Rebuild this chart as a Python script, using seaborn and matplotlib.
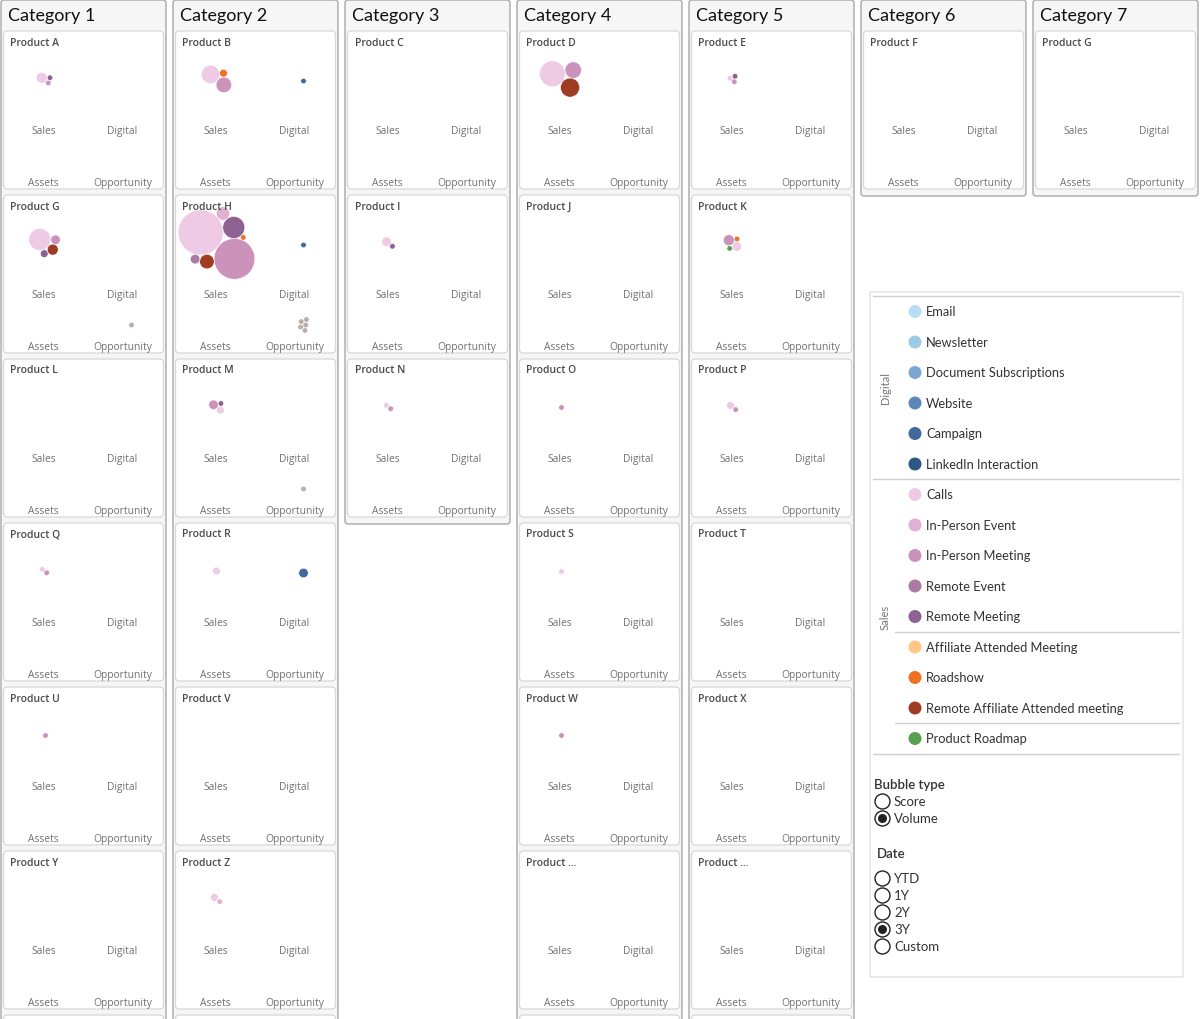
import numpy as np
import pandas as pd
import matplotlib
matplotlib.use('Agg')
import matplotlib.pyplot as plt
from matplotlib.patches import FancyBboxPatch
import seaborn as sns

# --- data ---
categories = ['Category 1', 'Category 2', 'Category 3', 'Category 4',
              'Category 5', 'Category 6', 'Category 7']
category_products = [
    ['Product A', 'Product G', 'Product L', 'Product Q', 'Product U', 'Product Y'],
    ['Product B', 'Product H', 'Product M', 'Product R', 'Product V', 'Product Z'],
    ['Product C', 'Product I', 'Product N'],
    ['Product D', 'Product J', 'Product O', 'Product S', 'Product W', 'Product ...'],
    ['Product E', 'Product K', 'Product P', 'Product T', 'Product X', 'Product ...'],
    ['Product F'],
    ['Product G'],
]
# columns that scroll on below the visible area
column_continues = [True, True, False, True, True, False, False]

digital_activities = ['Email', 'Newsletter', 'Document Subscriptions', 'Website',
                      'Campaign', 'LinkedIn Interaction']
digital_colors = ['#b9ddf1', '#9fcae6', '#7aa7cf', '#5b88b7', '#42699c', '#2a5783']
sales_activities = ['Calls', 'In-Person Event', 'In-Person Meeting', 'Remote Event',
                    'Remote Meeting', 'Affiliate Attended Meeting', 'Roadshow',
                    'Remote Affiliate Attended meeting', 'Product Roadmap']
sales_colors = ['#eecae5', '#e1b1d3', '#cb93b9', '#a97aa2', '#8d6191',
                '#ffc685', '#ef7123', '#9e3d22', '#59a14f']
opportunity_color = '#bbafa9'

# one entry per bubble
bubble_category = (['Category 1'] * 11 + ['Category 2'] * 25 + ['Category 3'] * 4
                   + ['Category 4'] * 6 + ['Category 5'] * 9)
bubble_product = [
    'Product A', 'Product A', 'Product A',
    'Product G', 'Product G', 'Product G', 'Product G', 'Product G',
    'Product Q', 'Product Q',
    'Product U',
    'Product B', 'Product B', 'Product B', 'Product B',
    'Product H', 'Product H', 'Product H', 'Product H', 'Product H', 'Product H', 'Product H', 'Product H',
    'Product H', 'Product H', 'Product H', 'Product H', 'Product H',
    'Product M', 'Product M', 'Product M', 'Product M',
    'Product R', 'Product R',
    'Product Z', 'Product Z',
    'Product I', 'Product I',
    'Product N', 'Product N',
    'Product D', 'Product D', 'Product D',
    'Product O', 'Product S', 'Product W',
    'Product E', 'Product E', 'Product E',
    'Product K', 'Product K', 'Product K', 'Product K',
    'Product P', 'Product P',
]
bubble_activity = [
    'Calls', 'In-Person Meeting', 'Remote Meeting',
    'Calls', 'In-Person Meeting', 'Remote Meeting', 'Remote Affiliate Attended meeting', 'Opportunity',
    'Calls', 'In-Person Meeting',
    'In-Person Meeting',
    'Calls', 'In-Person Meeting', 'Roadshow', 'Campaign',
    'Calls', 'In-Person Meeting', 'Remote Meeting', 'Remote Affiliate Attended meeting',
    'In-Person Event', 'Remote Event', 'Roadshow', 'Campaign',
    'Opportunity', 'Opportunity', 'Opportunity', 'Opportunity', 'Opportunity',
    'Calls', 'In-Person Meeting', 'Remote Meeting', 'Opportunity',
    'Calls', 'Campaign',
    'Calls', 'In-Person Event',
    'Calls', 'Remote Meeting',
    'Calls', 'In-Person Meeting',
    'Calls', 'In-Person Meeting', 'Remote Affiliate Attended meeting',
    'In-Person Meeting', 'Calls', 'In-Person Meeting',
    'Calls', 'In-Person Meeting', 'Remote Meeting',
    'Calls', 'In-Person Meeting', 'Roadshow', 'Product Roadmap',
    'Calls', 'In-Person Meeting',
]
bubble_volume = [
    4, 1, 1,
    16, 3, 2, 4, 1,
    1, 1,
    1,
    11, 8, 2, 1,
    67, 55, 16, 7, 6, 3, 1, 1,
    1, 1, 1, 1, 1,
    2, 3, 1, 1,
    2, 3,
    2, 1,
    3, 1,
    1, 1,
    22, 9, 12,
    1, 1, 1,
    1, 1, 1,
    3, 4, 1, 1,
    2, 1,
]

quadrant_labels = ['Sales', 'Digital', 'Assets', 'Opportunity']

df = pd.DataFrame({'category': bubble_category, 'product': bubble_product,
                   'activity': bubble_activity, 'volume': bubble_volume})

palette = dict(zip(digital_activities, digital_colors))
palette.update(zip(sales_activities, sales_colors))
palette['Opportunity'] = opportunity_color


def quadrant_of(activity):
    if activity in digital_activities:
        return 'Digital'
    if activity in sales_activities:
        return 'Sales'
    return 'Opportunity'


df['quadrant'] = df['activity'].map(quadrant_of)

# --- layout constants (pixels) ---
W, H = 1200, 1020
PANEL_W, PANEL_H = 160, 158
PX_PER_UNIT = 2.75          # bubble radius in px for volume 1
anchors = {'Sales': (41, 48), 'Digital': (128, 50), 'Assets': (41, 131), 'Opportunity': (128, 130)}
label_pos = {'Sales': (40, 99.5), 'Digital': (119, 99.5), 'Assets': (40, 151.5), 'Opportunity': (119, 151.5)}
column_bottom = [1040, 1040, 525, 1040, 1040, 197, 197]


def tangent_points(p0, r0, p1, r1):
    d = np.hypot(*(p1 - p0))
    if d == 0 or d > r0 + r1 or d < abs(r0 - r1):
        return []
    a = (r0 ** 2 - r1 ** 2 + d ** 2) / (2 * d)
    h = np.sqrt(max(r0 ** 2 - a ** 2, 0))
    u = (p1 - p0) / d
    pm = p0 + a * u
    perp = np.array([-u[1], u[0]])
    return [pm + h * perp, pm - h * perp]


def pack_circles(radii):
    # greedy packing: biggest first, each next one as close to the cluster centre as it fits
    order = sorted(range(len(radii)), key=lambda i: -radii[i])
    centers = np.zeros((len(radii), 2))
    done = []
    for k, i in enumerate(order):
        r = radii[i]
        if k == 1:
            j = done[0]
            ang = np.deg2rad(38)
            centers[i] = centers[j] + (radii[j] + r) * np.array([np.cos(ang), np.sin(ang)])
        elif k > 1:
            w = np.array([radii[m] ** 2 for m in done])
            cg = (centers[done] * w[:, None]).sum(axis=0) / w.sum()
            best, best_d = None, np.inf
            for ai in range(len(done)):
                for bi in range(ai + 1, len(done)):
                    a, b = done[ai], done[bi]
                    for c in tangent_points(centers[a], radii[a] + r, centers[b], radii[b] + r):
                        if all(np.hypot(*(c - centers[m])) >= radii[m] + r - 1e-6 for m in done):
                            dist = np.hypot(*(c - cg)) + 0.01 * c[1]
                            if dist < best_d:
                                best, best_d = c, dist
            centers[i] = best
        done.append(i)
    rr = np.array(radii)[:, None]
    lo = (centers - rr).min(axis=0)
    hi = (centers + rr).max(axis=0)
    return centers - (lo + hi) / 2


sns.set_style('white')
plt.rcParams['font.family'] = ['Lato', 'DejaVu Sans']

fig = plt.figure(figsize=(W / 100, H / 100), dpi=100)
bg = fig.add_axes([0, 0, 1, 1])
bg.set_xlim(0, W)
bg.set_ylim(H, 0)
bg.axis('off')

vmax = df['volume'].max()
smax = (0.72 * 2 * PX_PER_UNIT) ** 2 * vmax

for ci, cat in enumerate(categories):
    x0 = 1 + 172 * ci
    bg.add_patch(FancyBboxPatch((x0, 1), 165, column_bottom[ci] - 1,
                                boxstyle='round,pad=0,rounding_size=3',
                                fc='#f6f6f6', ec='#a8a8a8', lw=1))
    bg.text(x0 + 7, 15.5, cat, fontsize=13, va='center', ha='left', color='#111111')
    prods = category_products[ci]
    if column_continues[ci]:
        bg.add_patch(FancyBboxPatch((x0 + 2.5, 32 + 164 * len(prods)), PANEL_W, PANEL_H,
                                    boxstyle='round,pad=0,rounding_size=4',
                                    fc='white', ec='#d8d8d8', lw=0.9))
    for ri, prod in enumerate(prods):
        px, py = x0 + 2.5, 32 + 164 * ri
        bg.add_patch(FancyBboxPatch((px, py), PANEL_W, PANEL_H,
                                    boxstyle='round,pad=0,rounding_size=4',
                                    fc='white', ec='#d8d8d8', lw=0.9))
        ax = fig.add_axes([px / W, 1 - (py + PANEL_H) / H, PANEL_W / W, PANEL_H / H])
        ax.set_xlim(0, PANEL_W)
        ax.set_ylim(PANEL_H, 0)
        ax.axis('off')
        ax.text(7, 11, prod, fontsize=7.5, fontweight='semibold', color='#4a4a4a',
                va='center', ha='left', family=['Open Sans', 'DejaVu Sans'])
        for q in quadrant_labels:
            ax.text(*label_pos[q], q, fontsize=7.4, color='#707070', ha='center', va='center',
                    family=['Open Sans', 'DejaVu Sans'])

        sub = df[(df['category'] == cat) & (df['product'] == prod)].copy()
        if sub.empty:
            continue
        sub['x'] = 0.0
        sub['y'] = 0.0
        for q, grp in sub.groupby('quadrant'):
            radii = list(PX_PER_UNIT * np.sqrt(grp['volume'].values))
            cen = pack_circles(radii) + np.array(anchors[q])
            sub.loc[grp.index, 'x'] = cen[:, 0]
            sub.loc[grp.index, 'y'] = cen[:, 1]
        sns.scatterplot(data=sub, x='x', y='y', hue='activity', palette=palette,
                        size='volume', sizes=(0, smax), size_norm=(0, vmax),
                        linewidth=0.4, edgecolor='white', legend=False, ax=ax,
                        clip_on=False, alpha=1)
        ax.set_xlim(0, PANEL_W)
        ax.set_ylim(PANEL_H, 0)
        ax.axis('off')

# --- colour legend ---
bg.add_patch(FancyBboxPatch((870, 293), 313, 685, boxstyle='round,pad=0,rounding_size=1',
                            fc='white', ec='#e2e2e2', lw=1))
legend_names = digital_activities + sales_activities
legend_colors = digital_colors + sales_colors
legend_y = [312.5 + 30.5 * k for k in range(len(legend_names))]
bg.scatter([915] * len(legend_names), legend_y, s=(13 * 0.72) ** 2, c=legend_colors,
           linewidths=0)
for name, y in zip(legend_names, legend_y):
    bg.text(926, y, name, fontsize=9.3, va='center', ha='left', color='#333333')
for y, xa in [(297, 873), (480, 873), (633, 895), (724, 895), (755, 873)]:
    bg.plot([xa, 1179], [y, y], color='#cfcfcf', lw=1)
bg.text(885, 388, 'Digital', rotation=90, fontsize=8, color='#777777', ha='center', va='center')
bg.text(885, 617, 'Sales', rotation=90, fontsize=8, color='#777777', ha='center', va='center')

# --- parameter controls ---
bubble_options = ['Score', 'Volume']
bubble_selected = 'Volume'
date_options = ['YTD', '1Y', '2Y', '3Y', 'Custom']
date_selected = '3Y'

bg.text(874, 785, 'Bubble type', fontsize=9.5, fontweight='semibold', color='#333333',
        va='center', ha='left')
bg.text(877, 854, 'Date', fontsize=9.5, fontweight='semibold', color='#333333',
        va='center', ha='left')
for options, selected, y0 in [(bubble_options, bubble_selected, 802),
                              (date_options, date_selected, 879)]:
    ys = [y0 + 17 * k for k in range(len(options))]
    bg.scatter([882] * len(options), ys, s=(15 * 0.72) ** 2, facecolors='white',
               edgecolors='#222222', linewidths=1, zorder=3)
    sel = [y for o, y in zip(options, ys) if o == selected]
    bg.scatter([882] * len(sel), sel, s=(9 * 0.72) ** 2, c='#222222', linewidths=0, zorder=4)
    for o, y in zip(options, ys):
        bg.text(894, y, o, fontsize=9.5, va='center', ha='left', color='#333333')

fig.savefig('out.png', dpi=100)
